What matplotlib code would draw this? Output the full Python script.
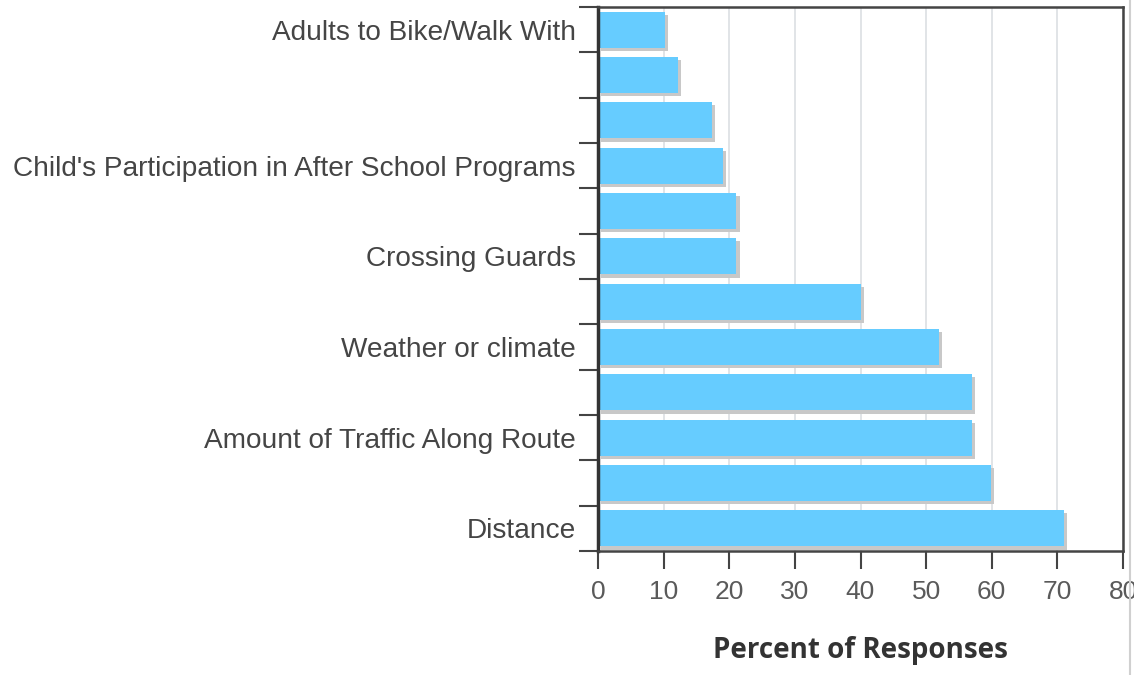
import matplotlib
matplotlib.use("Agg")
import matplotlib.pyplot as plt
import matplotlib.patheffects as pe
from matplotlib import font_manager
import numpy as np

# Data (bottom to top)
labels = ["Distance", "", "Amount of Traffic Along Route", "", "Weather or climate", "",
          "Crossing Guards", "", "Child's Participation in After School Programs", "", "",
          "Adults to Bike/Walk With"]
values = [71.0, 59.9, 57.0, 57.0, 51.9, 40.1, 21.1, 21.1, 19.0, 17.3, 12.2, 10.2]
xticks = [0, 10, 20, 30, 40, 50, 60, 70, 80]
xlabel = "Percent of Responses"

names = {f.name for f in font_manager.fontManager.ttflist}
narrow = "Liberation Sans Narrow" if "Liberation Sans Narrow" in names else "Liberation Sans"

fig = plt.figure(figsize=(11.34, 6.75), dpi=100)
ax = fig.add_axes([598/1134, 1-551/675, (1123-598)/1134, (551-7)/675])

y = np.arange(len(values))
bars = ax.barh(y, values, height=0.8, color="#66CCFF", zorder=3)
for b in bars:
    b.set_path_effects([pe.SimplePatchShadow(offset=(2.2, -2.2), shadow_rgbFace="#c8c8c8", alpha=1.0),
                        pe.Normal()])

ax.set_xlim(0, 80)
ax.set_ylim(-0.5, len(values) - 0.5)
ax.set_xticks(xticks)
ax.set_xticklabels([str(t) for t in xticks], family=narrow, fontsize=19, color="#5a5a5a")
ax.tick_params(axis="x", length=13, width=1.5, color="#444444", pad=8)
ax.grid(axis="x", color="#dcdfe3", linewidth=1.2, zorder=0)

# y: major ticks at band boundaries, labels at centers
ax.set_yticks(np.arange(-0.5, len(values), 1.0))
ax.set_yticklabels([])
ax.set_yticks(y, minor=True)
ax.set_yticklabels(labels, minor=True, family="Liberation Sans", fontsize=20.2, color="#454545")
ax.tick_params(axis="y", which="major", length=14, width=1.5, color="#444444")
ax.tick_params(axis="y", which="minor", length=0, pad=16)

ax.set_xlabel(xlabel, family="Open Sans", fontweight="bold", fontsize=20, color="#333333", labelpad=23)

for s in ["left"]:
    ax.spines[s].set_linewidth(2.5)
    ax.spines[s].set_color("#333333")
for s in ["top", "right", "bottom"]:
    ax.spines[s].set_linewidth(1.8)
    ax.spines[s].set_color("#444444")
for s in ax.spines.values():
    s.set_zorder(5)

fig.add_artist(plt.Line2D([1130/1134, 1130/1134], [0, 1], color="#d0d0d0", linewidth=1.5))

fig.savefig("out.png", dpi=100, facecolor="white")
